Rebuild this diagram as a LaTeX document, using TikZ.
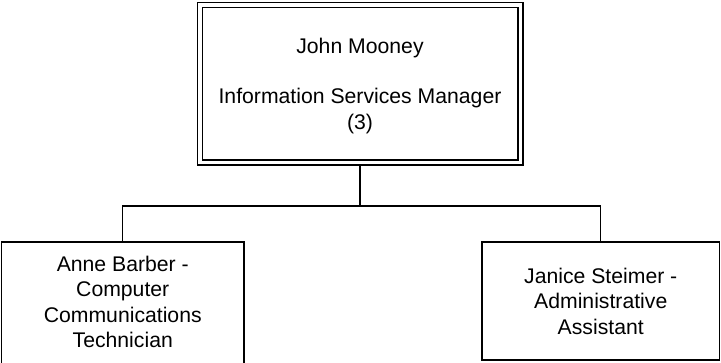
\documentclass[tikz,border=0pt]{standalone}
\usepackage{fontspec}
\setmainfont{Liberation Sans}
\begin{document}
\begin{tikzpicture}[x=1pt,y=-1pt,
  every node/.style={font=\fontsize{21.2}{25.3}\selectfont},
  box/.style={draw, line width=1.3pt, inner sep=0pt},
  txt/.style={align=center, inner sep=0pt, anchor=base},
  link/.style={line width=1.3pt}]
\useasboundingbox (0,0) rectangle (721,362);
\clip (0,0) rectangle (721,362);

% manager box with a double border
\node[box, double, double distance=3.7pt, outer sep=3.15pt,
      minimum width=320.7pt, minimum height=157.7pt] (boss) at (360,83.7) {};
% staff boxes
\node[box, minimum width=242.5pt, minimum height=158pt] (anne) at (122.75,321) {};
\node[box, minimum width=237.5pt, minimum height=118pt] (janice) at (600.75,301) {};

% labels (anchored on the baseline of their last line)
\node[txt] (bossT) at (360,129) {John Mooney\\[25.3pt]Information Services Manager\\(3)};
\node[txt] (anneT) at (122.75,347.5) {Anne Barber -\\Computer\\Communications\\Technician};
\node[txt] (janiceT) at (600.75,334) {Janice Steimer -\\Administrative\\Assistant};

% reporting lines
\coordinate (bus) at (360,206);
\draw[link] (boss.south) -- (bus);
\draw[link] (anne.north) |- (bus) -| (janice.north);
\end{tikzpicture}
\end{document}
